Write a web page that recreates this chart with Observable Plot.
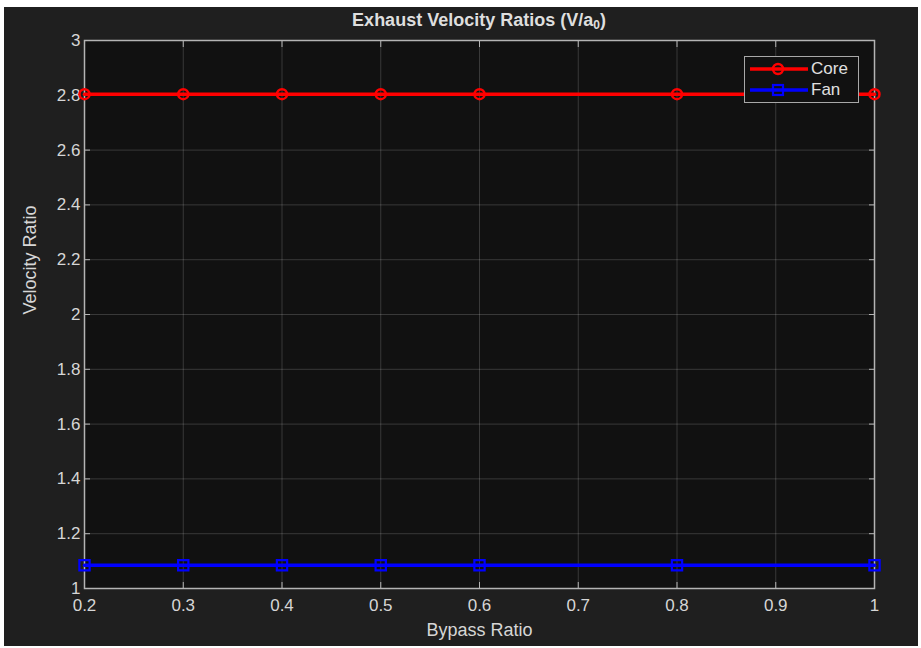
<!DOCTYPE html>
<html>
<head>
<meta charset="utf-8">
<script src="https://cdn.jsdelivr.net/npm/d3@7"></script>
<script src="https://cdn.jsdelivr.net/npm/@observablehq/plot@0.6"></script>
<style>
  html, body { margin: 0; padding: 0; background: #ffffff; }
  #fig { position: absolute; left: 4px; top: 7px; width: 914px; height: 639px; background: #1f1f1f; font-family: "Liberation Sans", Arial, sans-serif; overflow: hidden; }
  #title { position: absolute; left: 80px; width: 790px; top: 0; height: 28px; line-height: 27px; text-align: center; color: #dedede; font-weight: bold; font-size: 18px; z-index: 2; }
  #title sub { font-size: 12px; vertical-align: -3px; line-height: 0; }
  #chart { position: absolute; left: 0; top: 12px; }
  #legend { position: absolute; left: 740px; top: 49px; width: 113px; height: 45px; border: 1px solid #a8a8a8; background: #111111; }
  .row { position: absolute; left: 0; height: 20px; display: flex; align-items: center; color: #e0e0e0; font-size: 17px; }
  .row svg { margin-left: 5px; margin-right: 3px; }
</style>
</head>
<body>
<div id="fig">
  <div id="chart"></div>
  <div id="title">Exhaust Velocity Ratios (V/a<sub>0</sub>)</div>
  <div id="legend"></div>
</div>
<script>
const bypassRatio = [0.2, 0.3, 0.4, 0.5, 0.6, 0.8, 1.0];
const coreVelocityRatio = [2.804, 2.804, 2.804, 2.804, 2.804, 2.804, 2.804];
const fanVelocityRatio = [1.085, 1.085, 1.085, 1.085, 1.085, 1.085, 1.085];
const xTicks = [0.2, 0.3, 0.4, 0.5, 0.6, 0.7, 0.8, 0.9, 1.0];
const yTicks = [1, 1.2, 1.4, 1.6, 1.8, 2, 2.2, 2.4, 2.6, 2.8, 3];
const seriesNames = ["Core", "Fan"];
const seriesColors = ["#ff0000", "#0000ff"];
const seriesSymbols = ["circle", "square"];
const xLabel = "Bypass Ratio";
const yLabel = "Velocity Ratio";

const core = bypassRatio.map((x, i) => ({x, y: coreVelocityRatio[i]}));
const fan = bypassRatio.map((x, i) => ({x, y: fanVelocityRatio[i]}));

const tickColor = "#b4b4b4";
const textColor = "#d6d6d6";
const fmt = d => d3.format("~g")(d);

const plot = Plot.plot({
  width: 914,
  height: 627,
  marginLeft: 80,
  marginRight: 44,
  marginTop: 21,
  marginBottom: 58,
  style: { background: "transparent", fontFamily: "'Liberation Sans', Arial, sans-serif", fontSize: "17px", color: textColor },
  x: { domain: [0.2, 1.0] },
  y: { domain: [1, 3] },
  marks: [
    Plot.frame({ fill: "#111111" }),
    Plot.gridX(xTicks, { stroke: "#ffffff", strokeOpacity: 0.17 }),
    Plot.gridY(yTicks, { stroke: "#ffffff", strokeOpacity: 0.17 }),
    // inward ticks on all sides
    Plot.axisX(xTicks, { anchor: "bottom", tickSize: 6, dy: -6, text: null, label: null, stroke: tickColor }),
    Plot.axisX(xTicks, { anchor: "top", tickSize: 6, dy: 6, text: null, label: null, stroke: tickColor }),
    Plot.axisY(yTicks, { anchor: "left", tickSize: 6, dx: 6, text: null, label: null, stroke: tickColor }),
    Plot.axisY(yTicks, { anchor: "right", tickSize: 6, dx: -6, text: null, label: null, stroke: tickColor }),
    // tick labels
    Plot.axisX(xTicks, { anchor: "bottom", tickSize: 0, tickPadding: 10, tickFormat: fmt, label: null, fill: textColor, fontSize: 17 }),
    Plot.axisY(yTicks, { anchor: "left", tickSize: 0, tickPadding: 4, tickFormat: fmt, label: null, fill: textColor, fontSize: 17 }),
    Plot.frame({ stroke: tickColor, strokeWidth: 1.5 }),
    // axis titles
    Plot.text([xLabel], { frameAnchor: "bottom", dy: 47, fill: textColor, fontSize: 18 }),
    Plot.text([yLabel], { frameAnchor: "left", rotate: -90, dx: -54, fill: textColor, fontSize: 18 }),
    // series
    Plot.line(core, { x: "x", y: "y", stroke: seriesColors[0], strokeWidth: 3.5 }),
    Plot.dot(core, { x: "x", y: "y", stroke: seriesColors[0], symbol: seriesSymbols[0], r: 5, strokeWidth: 2.5, fill: "none" }),
    Plot.line(fan, { x: "x", y: "y", stroke: seriesColors[1], strokeWidth: 3.5 }),
    Plot.dot(fan, { x: "x", y: "y", stroke: seriesColors[1], symbol: seriesSymbols[1], r: 5.8, strokeWidth: 2.2, fill: "none" })
  ]
});
document.getElementById("chart").appendChild(plot);

// legend
const legend = document.getElementById("legend");
seriesNames.forEach((name, i) => {
  const row = document.createElement("div");
  row.className = "row";
  row.style.top = (i === 0 ? 2 : 23) + "px";
  const marker = i === 0
    ? `<circle cx="28" cy="10" r="5" fill="none" stroke="${seriesColors[i]}" stroke-width="2.5"/>`
    : `<rect x="23" y="5" width="10" height="10" fill="none" stroke="${seriesColors[i]}" stroke-width="2.2"/>`;
  row.innerHTML = `<svg width="58" height="20"><line x1="0" x2="58" y1="10" y2="10" stroke="${seriesColors[i]}" stroke-width="3.5"/>${marker}</svg><span>${name}</span>`;
  legend.appendChild(row);
});
</script>
</body>
</html>
